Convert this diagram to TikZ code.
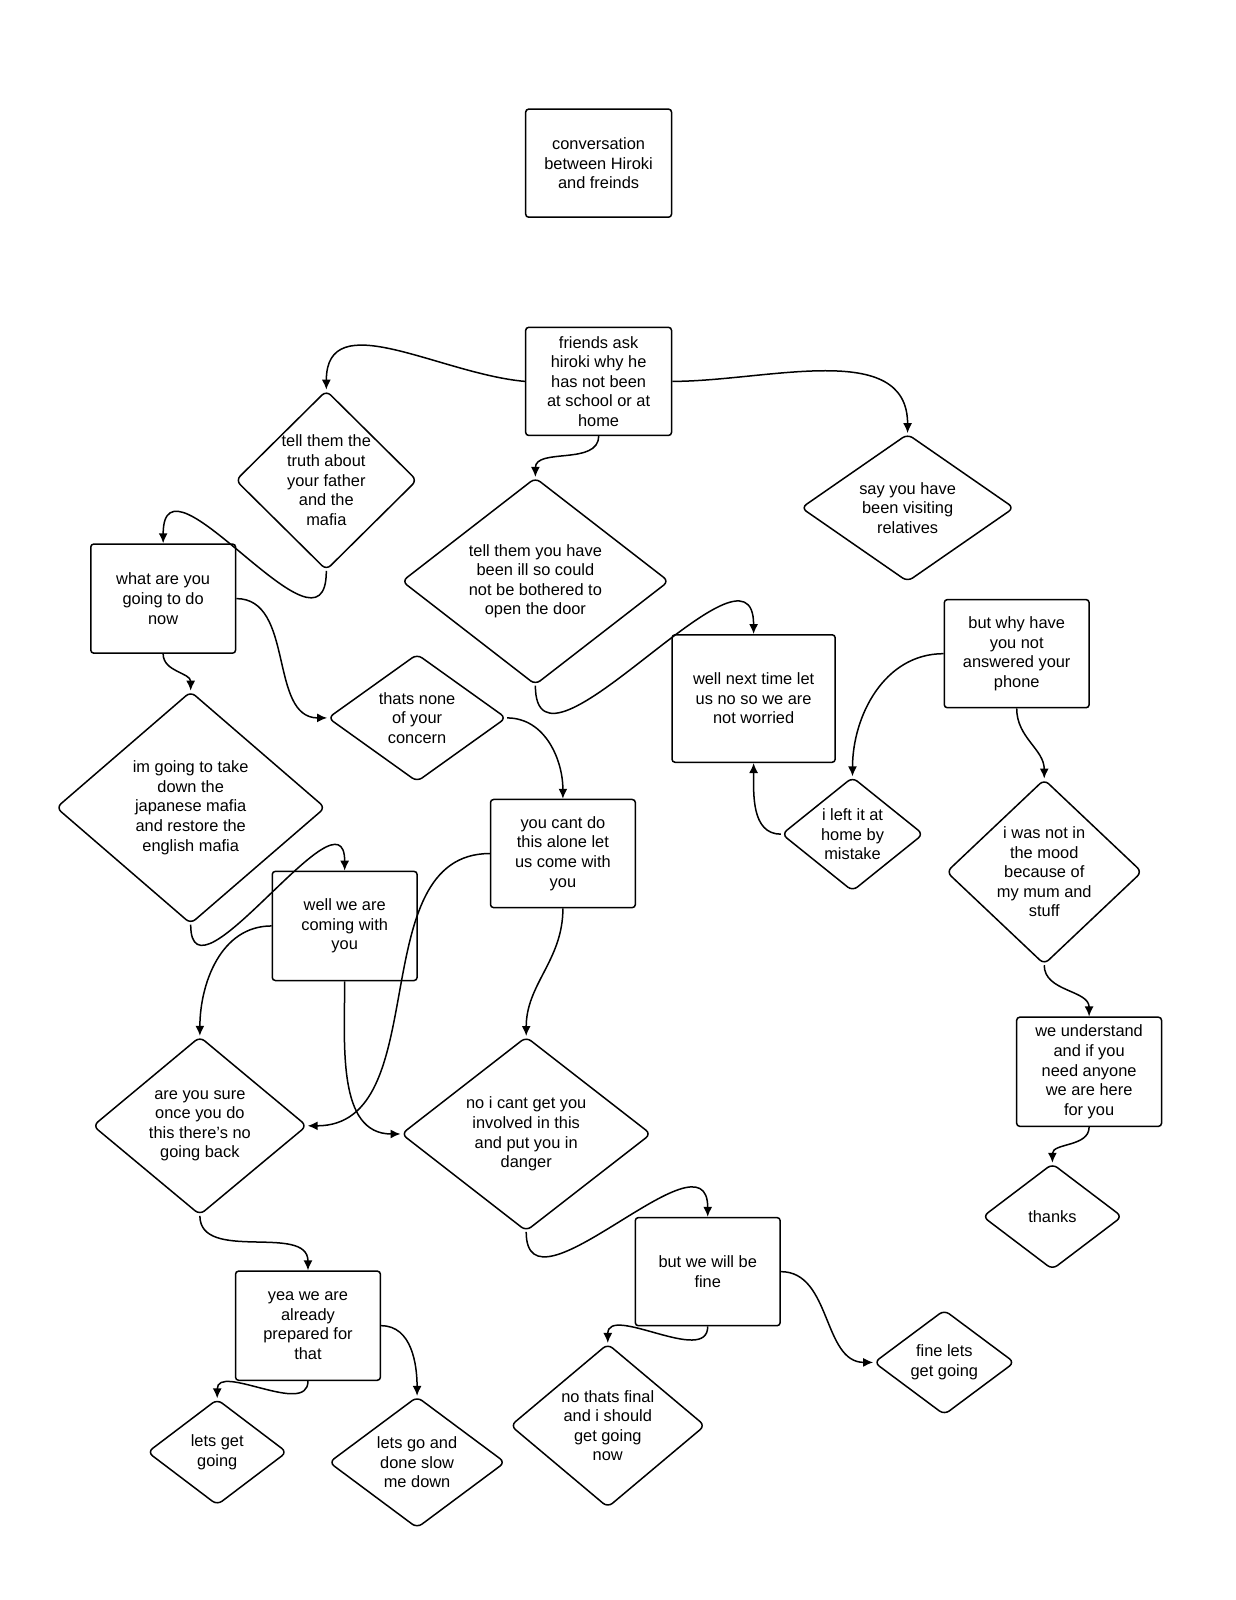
\documentclass[tikz,border=0pt]{standalone}
\usepackage{fontspec}
\setmainfont{Liberation Sans}
\usetikzlibrary{shapes.geometric,arrows.meta}
\begin{document}
\begin{tikzpicture}[x=0.51pt,y=0.51pt,
  every node/.style={font=\fontsize{8.2}{9.8}\selectfont,align=center,line width=0.75pt,inner sep=0pt},
  box/.style 2 args={draw,rectangle,rounded corners=1.5pt,minimum width=#1*0.51pt,minimum height=#2*0.51pt},
  dia/.style 2 args={draw,diamond,rounded corners=3pt,minimum width=#1*0.51pt,minimum height=#2*0.51pt},
  conn/.style={line width=0.75pt,-{Latex[length=5pt,width=4.5pt]}}]
\useasboundingbox (0,0) rectangle (1212,-1569);
\node[box={143}{106}] (title) at (587,-160) {conversation\\between Hiroki\\and freinds};
\node[box={143}{106}] (friends) at (587,-374) {friends ask\\hiroki why he\\has not been\\at school or at\\home};
\node[dia={178}{158}] (truth) at (320,-471) {tell them the\\truth about\\your father\\and the\\mafia};
\node[dia={262}{176}] (ill) at (525,-570) {tell them you have\\been ill so could\\not be bothered to\\open the door};
\node[dia={209}{140}] (visit) at (890,-498) {say you have\\been visiting\\relatives};
\node[box={142}{107}] (what) at (160,-587) {what are you\\going to do\\now};
\node[dia={175}{122}] (none) at (409,-704) {thats none\\of your\\concern};
\node[box={160}{125}] (next) at (739,-685) {well next time let\\us no so we are\\not worried};
\node[box={142}{106}] (why) at (997,-641) {but why have\\you not\\answered your\\phone};
\node[dia={139}{104}] (left) at (836,-818) {i left it at\\home by\\mistake};
\node[dia={264}{228}] (going) at (187,-792) {im going to take\\down the\\japanese mafia\\and restore the\\english mafia};
\node[box={142}{106}] (cant) at (552,-837) {you cant do\\this alone let\\us come with\\you};
\node[box={142}{107}] (wellwe) at (338,-908) {well we are\\coming with\\you};
\node[dia={192}{176}] (mood) at (1024,-855) {i was not in\\the mood\\because of\\my mum and\\stuff};
\node[box={142}{107}] (under) at (1068,-1051) {we understand\\and if you\\need anyone\\we are here\\for you};
\node[dia={210}{175}] (sure) at (196,-1104) {are you sure\\once you do\\this there's no\\going back};
\node[dia={245}{158}] (noi) at (516,-1112) {no i cant get you\\involved in this\\and put you in\\danger};
\node[dia={137}{104}] (thanks) at (1032,-1193) {thanks};
\node[box={142}{106}] (fine) at (694,-1247) {but we will be\\fine};
\node[box={142}{107}] (yea) at (302,-1300) {yea we are\\already\\prepared for\\that};
\node[dia={138}{103}] (finelets) at (926,-1336) {fine lets\\get going};
\node[dia={191}{155}] (final) at (596,-1398) {no thats final\\and i should\\get going\\now};
\node[dia={137}{104}] (letsget) at (213,-1424) {lets get\\going};
\node[dia={173}{122}] (letsgo) at (409,-1434) {lets go and\\done slow\\me down};

\draw[conn] (friends.west) to[out=175,in=90,looseness=1.1] (truth.north);
\draw[conn] (friends.south) to[out=-90,in=90] (ill.north);
\draw[conn] (friends.east) to[out=0,in=90] (visit.north);
\draw[conn] (truth.south) to[out=-90,in=90,looseness=1.6] (what.north);
\draw[conn] (what.east) to[out=0,in=180] (none.west);
\draw[conn] (what.south) to[out=-90,in=90] (going.north);
\draw[conn] (ill.south) to[out=-90,in=90,looseness=1.3] (next.north);
\draw[conn] (none.east) to[out=0,in=90] (cant.north);
\draw[conn] (why.west) to[out=180,in=90] (left.north);
\draw[conn] (why.south) to[out=-90,in=90] (mood.north);
\draw[conn] (left.west) to[out=180,in=-90] (next.south);
\draw[conn] (going.south) to[out=-90,in=90,looseness=1.4] (wellwe.north);
\draw[conn] (cant.west) to[out=180,in=0] (sure.east);
\draw[conn] (cant.south) to[out=-90,in=90] (noi.north);
\draw[conn] (wellwe.west) to[out=180,in=90] (sure.north);
\draw[conn] (wellwe.south) to[out=-90,in=180] (noi.west);
\draw[conn] (mood.south) to[out=-90,in=90] (under.north);
\draw[conn] (under.south) to[out=-90,in=90] (thanks.north);
\draw[conn] (sure.south) to[out=-90,in=90] (yea.north);
\draw[conn] (noi.south) to[out=-90,in=90,looseness=1.3] (fine.north);
\draw[conn] (fine.south) to[out=-90,in=90] (final.north);
\draw[conn] (fine.east) to[out=0,in=180] (finelets.west);
\draw[conn] (yea.south) to[out=-90,in=90] (letsget.north);
\draw[conn] (yea.east) to[out=0,in=90] (letsgo.north);
\end{tikzpicture}
\end{document}
